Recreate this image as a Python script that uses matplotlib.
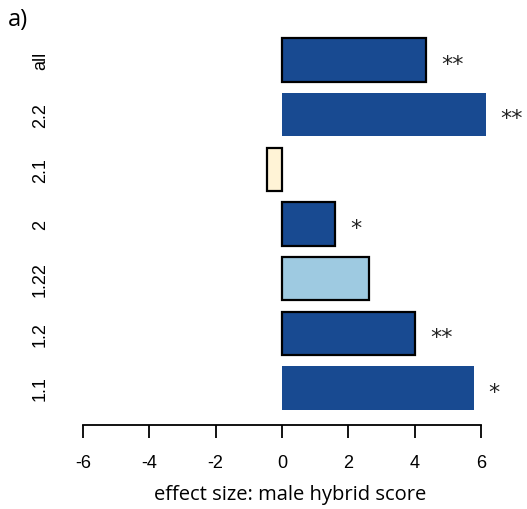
import matplotlib
matplotlib.use("Agg")
import matplotlib.pyplot as plt

categories = ["1.1", "1.2", "1.22", "2", "2.1", "2.2", "all"]
values = [5.78, 4.02, 2.62, 1.6, -0.45, 6.14, 4.34]
stars = ["*", "**", "", "*", "", "**", "**"]
colors = ["#184a91", "#184a91", "#9ecae1", "#184a91", "#fff3d6", "#184a91", "#184a91"]
bordered = [False, True, True, True, True, False, True]
xticks = [-6, -4, -2, 0, 2, 4, 6]

W, H = 527, 510
fig = plt.figure(figsize=(W / 100, H / 100), dpi=100)
left_px, right_px, top_px, bottom_px = 60, 520, 30, 426
ax = fig.add_axes([left_px / W, 1 - bottom_px / H, (right_px - left_px) / W, (bottom_px - top_px) / H])

pos = list(range(len(categories)))
for p, v, c, b in zip(pos, values, colors, bordered):
    ax.barh(p, v, height=0.79, color=c, edgecolor="black" if b else "none",
            linewidth=1.6 if b else 0)
for p, v, s in zip(pos, values, stars):
    if s:
        ax.text(v + 0.45, p - 0.07, s, ha="left", va="center", fontsize=16,
                family="DejaVu Sans", color="#222222")

pxu = (481 - 83) / 12.0
ax.set_xlim(-6 - (83 - left_px) / pxu, 6 + (right_px - 481) / pxu)
pyu = (389 - 61) / 6.0
ax.set_ylim(-(bottom_px - 389) / pyu, 6 + (61 - top_px) / pyu)

for s in ["top", "right", "left"]:
    ax.spines[s].set_visible(False)
ax.spines["bottom"].set_bounds(-6, 6)
ax.spines["bottom"].set_linewidth(1.3)
ax.set_xticks(xticks)
ax.set_xticklabels([str(t) for t in xticks], fontsize=13, family="Liberation Sans")
ax.tick_params(axis="x", length=9, width=1.3, pad=12)
ax.set_yticks(pos)
ax.set_yticklabels(categories, rotation=90, fontsize=13, family="Liberation Sans", va="center")
ax.tick_params(axis="y", length=0, pad=8)
ax.set_xlabel("effect size: male hybrid score", fontsize=14.5, family="Open Sans", labelpad=9)

fig.text(8 / W, 1 - 20 / H, "a)", fontsize=17, family="Open Sans", ha="left", va="center")

fig.savefig("out.png", dpi=100)
